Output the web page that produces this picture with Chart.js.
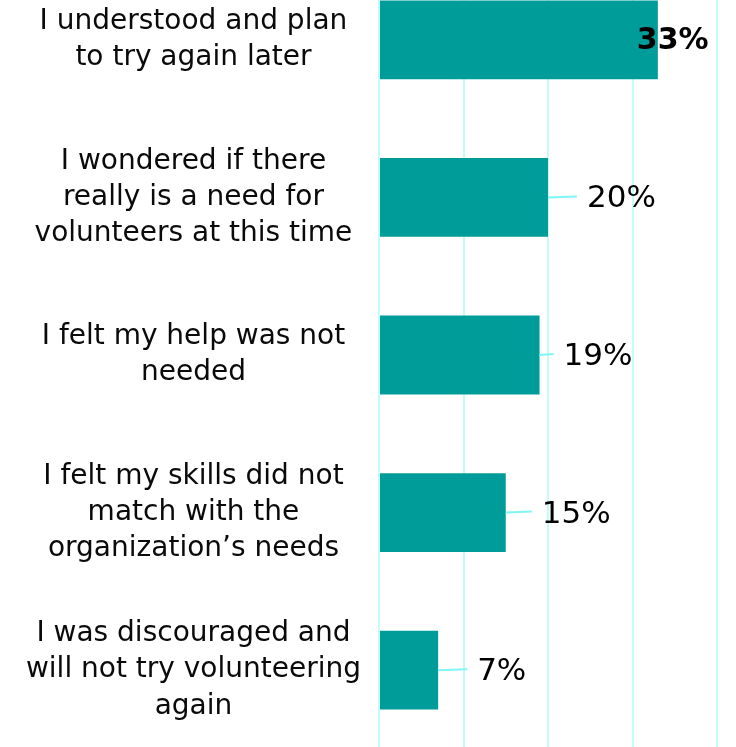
<!DOCTYPE html>
<html>
<head>
<meta charset="utf-8">
<script src="https://cdn.jsdelivr.net/npm/chart.js@4"></script>
<style>
  html, body { margin: 0; padding: 0; background: #fff; overflow: hidden; }
  #wrap { position: relative; width: 736px; height: 747px; overflow: hidden; }
  #box { position: absolute; left: 0; top: -39px; width: 736px; height: 788px; }
</style>
</head>
<body>
<div id="wrap">
  <div id="box"><canvas id="reasons-chart"></canvas></div>
</div>
<script>
const categories = [
    ['I understood and plan', 'to try again later'],
    ['I wondered if there', 'really is a need for', 'volunteers at this time'],
    ['I felt my help was not', 'needed'],
    ['I felt my skills did not', 'match with the', 'organization\u2019s needs'],
    ['I was discouraged and', 'will not try volunteering', 'again']
];
const percentages = [33, 20, 19, 15, 7];
const gridTicks = [0, 10, 20, 30, 40];

const labelFont = 'DejaVu Sans';

// value labels: a short cyan leader from the bar end, then the percentage
const valueLabels = {
    id: 'valueLabels',
    afterDatasetsDraw(chart, args, opts) {
        const ctx = chart.ctx;
        const meta = chart.getDatasetMeta(0);
        ctx.save();
        ctx.textBaseline = 'middle';
        ctx.fillStyle = '#000';
        meta.data.forEach((bar, i) => {
            const text = percentages[i] + '%';
            if (i === 0) {
                ctx.font = 'bold 30px ' + labelFont;
                ctx.textAlign = 'left';
                ctx.fillText(text, bar.x - 21, bar.y + 1);
                return;
            }
            const lead = opts.leaders[i];
            ctx.strokeStyle = '#80f5f5';
            ctx.lineWidth = 2;
            ctx.beginPath();
            ctx.moveTo(bar.x, bar.y);
            ctx.lineTo(bar.x + lead, bar.y - 1);
            ctx.stroke();
            ctx.font = '31px ' + labelFont;
            ctx.textAlign = 'left';
            ctx.fillText(text, bar.x + lead + 10, bar.y + 2);
        });
        ctx.restore();
    }
};

const ctx = document.getElementById('reasons-chart').getContext('2d');
new Chart(ctx, {
    type: 'bar',
    data: {
        labels: categories,
        datasets: [{
            data: percentages,
            backgroundColor: '#009c99',
            borderWidth: 0,
            barPercentage: 0.5,
            categoryPercentage: 1
        }]
    },
    options: {
        indexAxis: 'y',
        responsive: true,
        maintainAspectRatio: false,
        animation: false,
        layout: { padding: { top: 0, right: 19, bottom: 0, left: 0 } },
        plugins: {
            legend: { display: false },
            tooltip: { enabled: false },
            valueLabels: { leaders: [0, 29, 14, 26, 29] }
        },
        scales: {
            x: {
                min: gridTicks[0],
                max: gridTicks[gridTicks.length - 1],
                afterBuildTicks: scale => {
                    scale.ticks = gridTicks.map(v => ({ value: v }));
                },
                ticks: { display: false },
                grid: { color: '#c4fbfb', lineWidth: 2, drawTicks: false },
                border: { display: false }
            },
            y: {
                afterFit: scale => {
                    scale.width = 379;
                    scale.paddingTop = 0;
                    scale.paddingBottom = 0;
                },
                ticks: {
                    crossAlign: 'center',
                    padding: 18,
                    color: '#0a0a0a',
                    font: { family: labelFont, size: 28, lineHeight: 1.29 }
                },
                grid: { display: false, drawTicks: false },
                border: { display: false }
            }
        }
    },
    plugins: [valueLabels]
});
</script>
</body>
</html>
